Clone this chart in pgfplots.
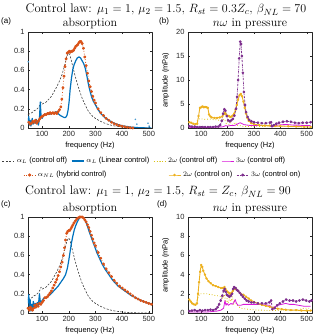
\documentclass[border=0pt]{standalone}
\usepackage{fontspec}
\setsansfont{Liberation Sans}
\usepackage{pgfplots}
\usepackage{pgfplotstable}
\pgfplotsset{compat=1.18}
\definecolor{mblue}{rgb}{0,0.447,0.741}
\definecolor{morange}{rgb}{0.85,0.325,0.098}
\definecolor{mgold}{rgb}{0.929,0.694,0.125}
\definecolor{myel}{rgb}{0.86,0.76,0.08}
\definecolor{mmag}{rgb}{0.85,0.1,0.85}
\definecolor{mpurp}{rgb}{0.494,0.184,0.556}
\definecolor{axgray}{rgb}{0.15,0.15,0.15}

% ---------- absorption, control off (same in a and c)
\pgfplotstableread{
f a
47 0.14
55 0.15
62 0.16
70 0.18
78 0.19
85 0.21
92 0.24
96 0.27
100 0.25
108 0.26
115 0.27
125 0.30
135 0.33
145 0.38
155 0.43
165 0.49
175 0.56
185 0.66
192 0.74
198 0.78
203 0.77
208 0.72
215 0.64
222 0.56
230 0.48
240 0.39
250 0.31
260 0.25
270 0.19
280 0.15
290 0.12
300 0.10
315 0.075
330 0.055
350 0.035
370 0.022
390 0.014
410 0.008
440 0.003
470 0.001
510 0
}\Aoff

% ---------- (a) linear control
\pgfplotstableread{
f a
47 0.05
50 0.12
52 0.03
55 0.08
58 0.02
60 0.06
63 0.10
66 0.04
70 0.07
74 0.05
78 0.09
82 0.06
86 0.03
90 0.10
93 0.27
96 0.12
100 0.10
105 0.13
110 0.14
118 0.15
125 0.14
135 0.15
145 0.16
152 0.17
160 0.15
168 0.13
175 0.12
182 0.11
188 0.11
193 0.13
197 0.18
201 0.27
205 0.40
210 0.52
215 0.61
220 0.66
226 0.70
232 0.73
238 0.74
244 0.73
250 0.70
256 0.67
262 0.62
268 0.54
274 0.45
280 0.38
286 0.32
292 0.28
300 0.24
310 0.19
320 0.15
335 0.11
350 0.08
370 0.05
390 0.03
410 0.018
430 0.01
460 0.004
490 0.001
510 0
}\ALa

\pgfplotstableread{
f a
48 0.69
450 0.09
455 0.04
497 0.05
501 0.02
}\ALaN

% ---------- (a) hybrid control
\pgfplotstableread{
f a
50 0.06
55 0.04
60 0.05
65 0.07
70 0.06
75 0.08
80 0.05
85 0.07
90 0.09
95 0.11
100 0.12
105 0.13
110 0.14
115 0.14
120 0.15
125 0.15
130 0.16
135 0.15
140 0.16
145 0.15
150 0.16
155 0.15
160 0.17
165 0.19
170 0.22
174 0.30
178 0.42
182 0.54
186 0.64
190 0.72
194 0.78
198 0.79
202 0.80
206 0.79
210 0.80
214 0.80
218 0.81
222 0.83
226 0.85
230 0.86
234 0.87
238 0.89
242 0.90
246 0.90
250 0.88
255 0.83
260 0.74
265 0.65
270 0.57
275 0.49
280 0.43
285 0.38
290 0.33
295 0.29
300 0.26
310 0.20
320 0.16
330 0.13
340 0.10
350 0.08
360 0.06
370 0.045
380 0.035
390 0.025
400 0.018
410 0.012
420 0.007
430 0.003
440 0.001
}\ANLa

% ---------- (c) linear control
\pgfplotstableread{
f a
47 0.10
50 0.19
52 0.05
55 0.14
58 0.02
61 0.09
64 0.04
67 0.12
70 0.06
74 0.10
78 0.07
82 0.11
86 0.08
90 0.20
93 0.12
96 0.11
100 0.13
105 0.15
112 0.16
120 0.17
130 0.19
140 0.22
150 0.25
160 0.28
170 0.32
180 0.36
188 0.40
195 0.47
200 0.55
205 0.64
210 0.73
215 0.80
220 0.86
226 0.91
232 0.95
238 0.98
244 1.00
250 1.00
256 0.99
262 0.96
268 0.92
274 0.87
280 0.82
288 0.76
296 0.70
305 0.63
315 0.57
325 0.51
335 0.46
345 0.42
355 0.38
365 0.34
375 0.31
385 0.28
395 0.26
405 0.24
420 0.21
435 0.18
450 0.16
465 0.14
480 0.12
495 0.105
510 0.095
}\ALc

% ---------- (c) hybrid control
\pgfplotstableread{
f a
47 0.05
52 0.03
56 0.06
60 0.04
64 0.03
68 0.05
72 0.08
76 0.06
80 0.09
85 0.07
90 0.10
95 0.09
100 0.11
105 0.13
110 0.16
115 0.16
120 0.17
125 0.19
130 0.21
135 0.23
140 0.26
145 0.29
150 0.32
155 0.35
160 0.39
165 0.43
170 0.48
175 0.53
180 0.60
184 0.68
188 0.76
192 0.83
196 0.85
200 0.86
204 0.86
208 0.88
212 0.90
216 0.92
220 0.94
225 0.96
230 0.98
235 0.99
240 1.00
245 1.00
250 1.00
255 0.99
260 0.97
265 0.95
270 0.92
275 0.89
280 0.85
285 0.81
290 0.77
295 0.73
300 0.70
310 0.63
320 0.57
330 0.51
340 0.46
350 0.42
360 0.38
370 0.34
380 0.31
390 0.28
400 0.26
410 0.24
420 0.22
430 0.20
440 0.18
450 0.16
460 0.145
470 0.13
480 0.12
490 0.11
500 0.10
510 0.09
}\ANLc

% ---------- (b) pressure harmonics
\pgfplotstableread{
f p
80 0.9
85 1.5
92 1.9
100 1.9
110 1.8
120 1.8
130 1.9
140 1.8
150 1.7
160 1.7
170 1.6
180 1.5
186 1.9
190 1.6
195 0.9
200 1.3
206 0.7
212 1.1
218 0.6
224 0.9
230 1.2
236 0.6
242 0.4
250 0.5
260 0.3
280 0.3
300 0.3
330 0.3
360 0.3
380 0.4
400 0.4
430 0.3
460 0.3
490 0.2
515 0.2
}\IIoffb

\pgfplotstableread{
f p
55 0.1
80 0.1
100 0.1
120 0.1
140 0.15
160 0.2
175 0.2
185 0.3
192 0.5
200 0.4
210 0.5
220 0.5
230 0.6
240 0.9
248 1.1
255 0.9
262 0.7
275 0.6
290 0.5
310 0.5
330 0.5
350 0.5
362 0.5
368 0.2
375 0.4
390 0.6
410 0.7
430 0.7
450 0.6
470 0.6
490 0.5
515 0.5
}\IIIoffb

\pgfplotstableread{
f p
55 1.2
62 1.1
70 0.9
78 0.8
85 0.9
90 2.5
95 4.2
100 4.3
105 4.5
110 4.3
115 4.4
120 4.3
125 4.2
130 2.8
135 2.4
140 2.2
150 2.1
160 2.1
170 2.2
180 2.4
186 2.9
190 3.2
195 2.8
200 2.5
205 2.5
210 2.3
215 2.4
220 2.6
225 3.0
230 3.8
235 4.8
240 5.9
245 6.8
250 7.1
255 6.6
260 5.5
265 4.2
270 3.0
275 2.1
280 1.5
290 1.0
300 0.8
320 0.6
340 0.5
360 0.5
380 0.4
400 0.4
430 0.35
460 0.3
490 0.25
515 0.2
}\IIonb

\pgfplotstableread{
f p
55 0.4
65 0.3
75 0.3
85 0.2
95 0.2
105 0.2
115 0.2
125 0.2
135 0.2
145 0.2
155 0.3
165 0.3
172 0.6
178 1.5
183 3.0
188 3.9
192 3.6
197 2.5
202 1.6
208 1.4
214 1.6
220 1.9
226 2.6
232 4.0
236 6.5
240 10.0
244 14.5
248 18.0
251 17.5
254 15.0
258 11.5
262 7.5
266 4.8
270 3.3
276 2.3
282 1.7
290 1.4
300 1.2
315 1.1
330 1.0
345 1.0
360 1.1
365 1.2
368 0.4
375 0.6
385 0.9
395 1.1
410 1.3
425 1.4
440 1.3
455 1.1
470 1.0
485 1.1
500 1.1
515 1.2
}\IIIonb

% ---------- (d) pressure harmonics
\pgfplotstableread{
f p
80 1.0
88 1.6
95 2.0
105 2.0
115 2.0
125 2.0
135 1.9
145 1.9
155 1.8
165 1.8
175 1.7
183 1.5
188 1.9
193 1.1
198 1.5
203 1.0
208 1.6
213 1.2
218 1.7
223 0.9
228 1.4
233 0.9
240 0.7
250 0.5
260 0.45
275 0.4
290 0.35
310 0.3
330 0.3
350 0.25
370 0.25
390 0.25
410 0.3
430 0.3
450 0.3
470 0.35
490 0.5
515 0.5
}\IIoffd

\pgfplotstableread{
f p
55 0.1
80 0.1
100 0.1
120 0.1
140 0.15
160 0.2
175 0.3
185 0.5
190 1.3
194 0.8
198 1.0
203 0.8
208 0.9
213 1.0
218 0.9
224 1.1
229 1.4
234 1.0
240 0.8
250 0.8
260 0.9
270 0.9
285 0.9
300 0.9
320 0.9
340 0.85
360 0.8
368 0.5
375 0.6
390 0.8
405 0.9
420 1.0
435 0.9
450 0.9
470 0.8
490 0.7
515 0.7
}\IIIoffd

\pgfplotstableread{
f p
55 1.4
60 1.2
66 1.0
72 0.9
78 0.85
84 1.0
88 2.0
92 3.2
96 4.3
100 5.0
104 4.8
108 4.4
114 4.0
120 3.6
128 3.3
136 3.1
145 2.9
155 2.8
165 2.7
175 2.6
182 2.6
188 2.7
192 2.5
196 2.3
200 2.2
205 2.1
210 2.0
215 2.1
220 2.3
226 2.5
232 2.5
240 2.3
250 2.0
260 1.9
270 1.7
280 1.5
290 1.3
300 1.15
315 1.0
330 0.85
345 0.75
360 0.65
375 0.55
390 0.45
405 0.4
420 0.35
440 0.3
460 0.3
480 0.25
500 0.25
515 0.25
}\IIond

\pgfplotstableread{
f p
55 0.2
65 0.25
75 0.3
85 0.2
95 0.3
105 0.25
115 0.3
125 0.3
135 0.35
145 0.3
155 0.4
162 0.6
168 0.9
174 1.3
180 1.8
185 2.3
189 2.5
193 2.2
197 1.9
202 1.8
207 1.7
212 1.8
217 2.0
221 2.5
225 2.7
230 2.6
235 2.4
240 2.3
246 2.1
252 1.9
258 1.7
265 1.5
272 1.3
280 1.2
290 1.1
300 1.1
315 1.0
330 1.0
345 1.0
358 1.1
365 1.3
370 0.4
378 0.5
388 0.8
398 1.0
410 1.2
422 1.4
435 1.3
448 1.3
460 1.2
472 1.3
485 1.4
498 1.3
510 1.2
518 1.3
}\IIIond

\pgfplotsset{
 panel/.style={scale only axis, width=124pt, height=96pt,
   axis line style={axgray, line width=0.4pt},
   tick style={axgray, line width=0.4pt}, major tick length=2pt, tick align=inside,
   tick label style={font=\sffamily\fontsize{7.5}{8}\selectfont, text=axgray},
   /pgf/number format/assume math mode=true,
   xlabel={frequency (Hz)},
   xlabel style={font=\sffamily\fontsize{7.5}{9}\selectfont, yshift=2pt},
   ylabel style={font=\sffamily\fontsize{7.5}{9}\selectfont},
   xtick={100,200,300,400,500}, ymin=0, line join=round},
 absp/.style={panel, xmin=47, xmax=512, ymax=1, ytick={0,0.2,0.4,0.6,0.8,1}},
 pres/.style={panel, xmin=50, xmax=520, ylabel={amplitude (mPa)}},
 offL/.style={black!75, line width=0.6pt, dash pattern=on 2pt off 1.5pt},
 linL/.style={mblue, line width=1.2pt},
 nlL/.style={morange, dotted, line width=0.8pt, mark=*, mark size=1.1pt, mark options={solid}},
 offII/.style={myel, dotted, line width=0.8pt},
 offIII/.style={mmag, line width=0.8pt},
 onII/.style={mgold, line width=0.9pt, mark=*, mark size=0.8pt},
 onIII/.style={mpurp, line width=0.8pt, dash pattern=on 2pt off 1pt on 0.5pt off 1pt, mark=*, mark size=1pt, mark options={solid}},
 legbox/.style={at={(0pt,0pt)}, anchor=south west, scale only axis, width=315pt, height=335pt,
   hide axis, xmin=0, xmax=315, ymin=0, ymax=335,
   legend style={draw=none, fill=none, inner sep=0pt, font=\sffamily\fontsize{7.5}{8}\selectfont,
     /tikz/every even column/.append style={column sep=2pt}},
   legend cell align=left,
   legend image code/.code={\draw[mark repeat=2,mark phase=2,##1] plot coordinates {(0pt,0pt) (6pt,0pt) (12pt,0pt)};}},
}

\begin{document}
\begin{tikzpicture}
\useasboundingbox (0,0) rectangle (315pt,335pt);

% (a)
\begin{axis}[absp, at={(28pt,207pt)}, anchor=south west]
\addplot[offL] table {\Aoff};
\addplot[linL] table {\ALa};
\addplot[nlL] table {\ANLa};
\addplot[only marks, mark=*, mark size=0.6pt, mblue!70] table {\ALaN};
\end{axis}

% (b)
\begin{axis}[pres, at={(188pt,207pt)}, anchor=south west, ymax=20, ytick={0,5,10,15,20}]
\addplot[offII] table {\IIoffb};
\addplot[offIII] table {\IIIoffb};
\addplot[onII] table {\IIonb};
\addplot[onIII] table {\IIIonb};
\end{axis}

% (c)
\begin{axis}[absp, at={(28pt,22pt)}, anchor=south west]
\addplot[offL] table {\Aoff};
\addplot[linL] table {\ALc};
\addplot[nlL] table {\ANLc};
\end{axis}

% (d)
\begin{axis}[pres, at={(188pt,22pt)}, anchor=south west, ymax=10, ytick={0,2,4,6,8,10}]
\addplot[offII] table {\IIoffd};
\addplot[offIII] table {\IIIoffd};
\addplot[onII] table {\IIond};
\addplot[onIII] table {\IIIond};
\end{axis}

% legends
\begin{axis}[legbox, legend columns=4, legend style={at={(0.0063,0.5194)}, anchor=west}]
\addlegendimage{offL}\addlegendentry{$\alpha_L$ (control off)}
\addlegendimage{linL}\addlegendentry{$\alpha_L$ (Linear control)}
\addlegendimage{offII}\addlegendentry{$2\omega$ (control off)}
\addlegendimage{offIII}\addlegendentry{$3\omega$ (control off)}
\end{axis}
\begin{axis}[legbox, legend columns=1, legend style={at={(0.073,0.4776)}, anchor=west}]
\addlegendimage{nlL}\addlegendentry{$\alpha_{NL}$ (hybrid control)}
\end{axis}
\begin{axis}[legbox, legend columns=2, legend style={at={(0.533,0.4776)}, anchor=west}]
\addlegendimage{onII}\addlegendentry{$2\omega$ (control on)}
\addlegendimage{onIII}\addlegendentry{$3\omega$ (control on)}
\end{axis}

% titles and panel labels
\node[font=\fontsize{12.5}{14}\selectfont, anchor=base] at (166pt,322pt) {Control law: $\mu_1=1$, $\mu_2=1.5$, $R_{st}=0.3Z_c$, $\beta_{NL}=70$};
\node[font=\fontsize{12.5}{14}\selectfont, anchor=base] at (158pt,140pt) {Control law: $\mu_1=1$, $\mu_2=1.5$, $R_{st}=Z_c$, $\beta_{NL}=90$};
\node[font=\fontsize{12}{14}\selectfont, anchor=base, inner sep=0pt] at (90pt,308pt) {absorption};
\node[font=\fontsize{12}{14}\selectfont, anchor=base, inner sep=0pt] at (250pt,308pt) {$n\omega$ in pressure};
\node[font=\fontsize{12}{14}\selectfont, anchor=base, inner sep=0pt] at (90pt,123pt) {absorption};
\node[font=\fontsize{12}{14}\selectfont, anchor=base, inner sep=0pt] at (250pt,123pt) {$n\omega$ in pressure};
\node[font=\sffamily\fontsize{8}{9}\selectfont, anchor=west, inner sep=0pt] at (1pt,314pt) {(a)};
\node[font=\sffamily\fontsize{8}{9}\selectfont, anchor=west, inner sep=0pt] at (159pt,314pt) {(b)};
\node[font=\sffamily\fontsize{8}{9}\selectfont, anchor=west, inner sep=0pt] at (1pt,131pt) {(c)};
\node[font=\sffamily\fontsize{8}{9}\selectfont, anchor=west, inner sep=0pt] at (157pt,131pt) {(d)};
\end{tikzpicture}
\end{document}
